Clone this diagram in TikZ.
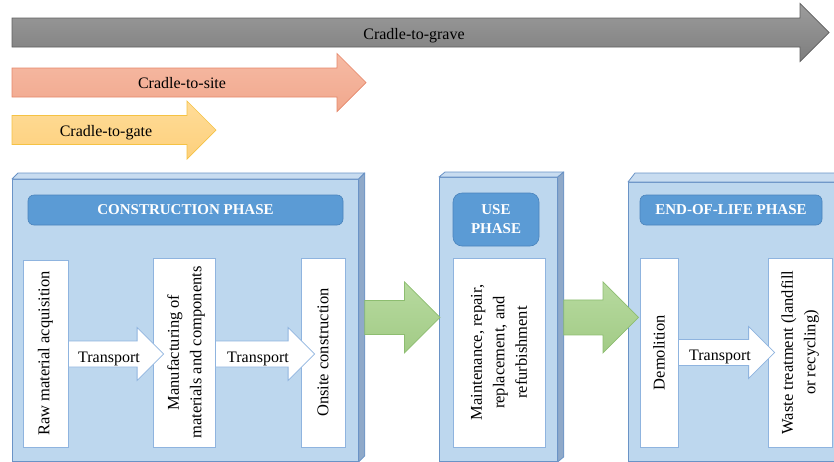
\documentclass[tikz,border=0pt]{standalone}
\usepackage{fontspec}
\setmainfont{Liberation Serif}
\usetikzlibrary{calc}
\definecolor{boxfill}{HTML}{BDD7EE}
\definecolor{boxline}{HTML}{6A93C6}
\definecolor{boxside}{HTML}{8FA9C9}
\definecolor{boxtop}{HTML}{C8DCF0}
\definecolor{hdrfill}{HTML}{5B9BD5}
\definecolor{hdrline}{HTML}{4A83BC}
\definecolor{wline}{HTML}{8FB4DF}
\definecolor{greyA}{HTML}{9C9C9C}
\definecolor{greyB}{HTML}{7E7E7E}
\definecolor{greyL}{HTML}{5F5F5F}
\definecolor{siteA}{HTML}{F6BAA4}
\definecolor{siteB}{HTML}{F1A88D}
\definecolor{siteL}{HTML}{E5876A}
\definecolor{gateA}{HTML}{FFDC98}
\definecolor{gateB}{HTML}{FDD07C}
\definecolor{gateL}{HTML}{F5C243}
\definecolor{grnA}{HTML}{B7DA9F}
\definecolor{grnB}{HTML}{A2CB86}
\definecolor{grnL}{HTML}{8DBD70}
% block arrow: #1 style, #2 start point, #3 tip point, #4 shaft half width, #5 head half width
\newcommand\barrow[5]{%
  \path[#1] let \p1=#2, \p2=#3 in
    (\x1,\y2+#4pt) -- (\x2-#5pt,\y2+#4pt) -- (\x2-#5pt,\y2+#5pt) -- (\x2,\y2)
    -- (\x2-#5pt,\y2-#5pt) -- (\x2-#5pt,\y2-#4pt) -- (\x1,\y2-#4pt) -- cycle;}
\begin{document}
\begin{tikzpicture}[x=1pt,y=-1pt,
  bigbox/.style={draw=boxline,fill=boxfill,line width=0.8pt,inner sep=0pt,anchor=north west},
  topface/.style={draw=boxline,fill=boxtop,line width=0.8pt,line join=round},
  sideface/.style={draw=boxline,fill=boxside,line width=0.8pt,line join=round},
  hdr/.style={draw=hdrline,fill=hdrfill,rounded corners=6pt,line width=0.6pt,text=white,
    font=\fontsize{15}{19}\selectfont\bfseries,align=center,inner sep=0pt},
  wbox/.style={draw=wline,fill=white,line width=0.8pt,inner sep=0pt},
  vtxt/.style={rotate=90,align=center,inner sep=0pt,font=\fontsize{16.5}{22.5}\selectfont},
  lbl/.style={inner sep=0pt,anchor=base,font=\fontsize{16}{22}\selectfont},
  greyarr/.style={draw=greyL,top color=greyA,bottom color=greyB,line width=0.7pt},
  sitearr/.style={draw=siteL,top color=siteA,bottom color=siteB,line width=0.7pt},
  gatearr/.style={draw=gateL,top color=gateA,bottom color=gateB,line width=0.7pt},
  grnarr/.style={draw=grnL,top color=grnA,bottom color=grnB,line width=0.7pt},
  trarr/.style={draw=wline,fill=white,line width=0.8pt}]
\useasboundingbox (0,0) rectangle (834,461);
\clip (0,0) rectangle (834,461);

% lifecycle scope arrows
\coordinate (gs) at (12,32.5);  \coordinate (ge) at (829,32.5);
\coordinate (ss) at (12,82.5);  \coordinate (se) at (366,82.5);
\coordinate (ts) at (12,130);   \coordinate (te) at (216,130);
\barrow{greyarr}{(gs)}{(ge)}{14.5}{29}
\barrow{sitearr}{(ss)}{(se)}{14.5}{29}
\barrow{gatearr}{(ts)}{(te)}{14.5}{29}
\node[lbl] (tgrave) at (414,39) {Cradle-to-grave};
\node[lbl] (tsite) at (182,88) {Cradle-to-site};
\node[lbl] (tgate) at (106,136.5) {Cradle-to-gate};

% construction phase box
\node[bigbox,minimum width=346,minimum height=282] (cph) at (12,179) {};
\draw[topface] (cph.north west) -- ++(6,-6) -- ($(cph.north east)+(6,-6)$) -- (cph.north east) -- cycle;
\draw[sideface] (cph.north east) -- ++(6,-6) -- ($(cph.south east)+(6,-6)$) -- (cph.south east) -- cycle;
\node[hdr,minimum width=315,minimum height=30] (cphh) at (185.5,210) {CONSTRUCTION PHASE};

% use phase box
\node[bigbox,minimum width=118,minimum height=284] (uph) at (439,177) {};
\draw[topface] (uph.north west) -- ++(6,-5) -- ($(uph.north east)+(6,-5)$) -- (uph.north east) -- cycle;
\draw[sideface] (uph.north east) -- ++(6,-5) -- ($(uph.south east)+(6,-5)$) -- (uph.south east) -- cycle;
\node[hdr,minimum width=86,minimum height=53,rounded corners=9pt] (uphh) at (496,219.5) {USE\\PHASE};

% end-of-life phase box
\node[bigbox,minimum width=230,minimum height=279] (eph) at (628,182) {};
\draw[topface] (eph.north west) -- ++(7,-9) -- ($(eph.north east)+(7,-9)$) -- (eph.north east) -- cycle;
\node[hdr,minimum width=182,minimum height=30] (ephh) at (731,210) {END-OF-LIFE PHASE};

% stage boxes
\node[wbox,minimum width=45,minimum height=187] (raw) at (45.5,353.5) {};
\node[vtxt] (rawt) at (raw.center) {Raw material acquisition};
\node[wbox,minimum width=62,minimum height=189] (manu) at (184,352.5) {};
\node[vtxt] (manut) at ([xshift=2pt]manu.center) {Manufacturing of\\materials and components};
\node[wbox,minimum width=44,minimum height=189] (onsite) at (323,352.5) {};
\node[vtxt] (onsitet) at (onsite.center) {Onsite construction};
\node[wbox,minimum width=92,minimum height=189] (maint) at (499,352.5) {};
\node[vtxt] (maintt) at (maint.center) {Maintenance, repair,\\replacement, and\\refurbishment};
\node[wbox,minimum width=38,minimum height=189] (demol) at (659,352.5) {};
\node[vtxt] (demolt) at (demol.center) {Demolition};
\node[wbox,minimum width=64,minimum height=189] (waste) at (800,352.5) {};
\node[vtxt] (wastet) at (waste.center) {Waste treatment (landfill\\or recycling)};

% transport arrows (their heads overlap the next box)
\barrow{trarr}{(raw.east)}{([xshift=11pt,yshift=-1.5pt]manu.west)}{13}{26.5}
\barrow{trarr}{(manu.east)}{([xshift=14pt,yshift=-1.5pt]onsite.west)}{13}{26.5}
\barrow{trarr}{(demol.east)}{([xshift=7pt]waste.west)}{13}{26}
\node[lbl] (tr1) at (109,362) {Transport};
\node[lbl] (tr2) at (258,362) {Transport};
\node[lbl] (tr3) at (720,360) {Transport};

% phase transition arrows
\barrow{grnarr}{($(cph.east)+(6,0)$)}{([xshift=1pt,yshift=2pt]uph.west)}{17}{35.5}
\barrow{grnarr}{($(uph.east)+(6,0)$)}{([xshift=10.5pt,yshift=4.5pt]eph.west)}{17.5}{35.5}
\end{tikzpicture}
\end{document}
